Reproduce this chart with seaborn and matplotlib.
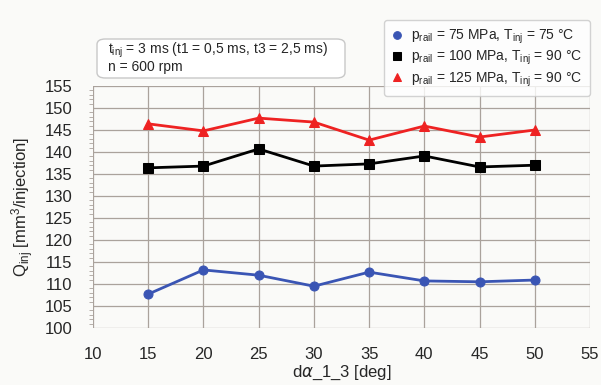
import matplotlib
matplotlib.use("Agg")
import matplotlib.pyplot as plt
import seaborn as sns
import pandas as pd
from matplotlib.patches import FancyBboxPatch
from matplotlib.ticker import MultipleLocator

angles = [15, 20, 25, 30, 35, 40, 45, 50]
q_75 = [107.7, 113.2, 112.0, 109.5, 112.7, 110.7, 110.5, 110.9]
q_100 = [136.4, 136.8, 140.7, 136.8, 137.3, 139.1, 136.6, 137.0]
q_125 = [146.4, 144.8, 147.7, 146.8, 142.7, 145.9, 143.4, 145.0]
labels = [r"$\mathregular{p_{rail}}$ = 75 MPa, $\mathregular{T_{inj}}$ = 75 °C",
          r"$\mathregular{p_{rail}}$ = 100 MPa, $\mathregular{T_{inj}}$ = 90 °C",
          r"$\mathregular{p_{rail}}$ = 125 MPa, $\mathregular{T_{inj}}$ = 90 °C"]
colors = ["#3a55b4", "#000000", "#ee2222"]
markers = ["o", "s", "^"]

df = pd.concat([
    pd.DataFrame({"angle": angles, "Q": q, "series": lab})
    for q, lab in zip([q_75, q_100, q_125], labels)
])

sns.set_style("white")
plt.rcParams["font.family"] = ["Liberation Sans", "DejaVu Sans"]
plt.rcParams["mathtext.fontset"] = "custom"
plt.rcParams["mathtext.rm"] = "Liberation Sans"

fig = plt.figure(figsize=(6.01, 3.85), dpi=100)
fig.patch.set_facecolor("#fafaf8")
ax = fig.add_axes([93/601, 1 - 328/385, (590-93)/601, (328-86)/385])
ax.set_facecolor("#fafaf8")

for lab, c, m, ms in zip(labels, colors, markers, [6.5, 7.5, 6.5]):
    sub = df[df["series"] == lab]
    sns.lineplot(data=sub, x="angle", y="Q", ax=ax, color=c, marker=m,
                 markersize=ms, markeredgecolor=c, linewidth=2, label=lab,
                 legend=False)

ax.set_xlim(10, 55)
ax.set_ylim(100, 155)
ax.set_xticks(range(10, 56, 5))
ax.set_yticks(range(100, 156, 5))
ax.yaxis.set_minor_locator(MultipleLocator(1))
ax.grid(True, which="major", color="#aaa29c", linewidth=0.9)
ax.tick_params(axis="y", which="major", labelsize=12, length=0, pad=15)
ax.tick_params(axis="x", which="major", labelsize=12, length=0, pad=14)
ax.tick_params(axis="y", which="minor", length=3, color="#aaa29c", left=True)
for s in ax.spines.values():
    s.set_visible(False)
ax.set_xlabel(r"d$\alpha$_1_3 [deg]", fontsize=12, labelpad=1)
ax.set_ylabel(r"$\mathregular{Q_{inj}}$ [mm$\mathregular{^3}$/injection]", fontsize=12, labelpad=6)

# info box
box = FancyBboxPatch((97/601, 1 - 78/385), 248/601, 39/385,
                     boxstyle="round,pad=0,rounding_size=0.014",
                     transform=fig.transFigure, facecolor="white",
                     edgecolor="#c8c8c8", linewidth=1)
fig.patches.append(box)
fig.text(108/601, 1 - 50/385,
         r"$\mathregular{t_{inj}}$ = 3 ms (t1 = 0,5 ms, t3 = 2,5 ms)",
         fontsize=10, va="center")
fig.text(108/601, 1 - 67.5/385, "n = 600 rpm", fontsize=10, va="center")

leg = ax.legend(loc="upper right", bbox_to_anchor=(597/601, 1 - 13/385),
                bbox_transform=fig.transFigure, fontsize=10, frameon=True,
                handlelength=0.7, handletextpad=0.7, borderpad=0.55,
                labelspacing=0.22, fancybox=True, markerscale=0.85)
for h in leg.legend_handles:
    h.set_linestyle("none")
leg.get_frame().set_edgecolor("#c8c8c8")
leg.get_frame().set_facecolor("white")

fig.savefig("out.png", dpi=100, facecolor=fig.get_facecolor())
